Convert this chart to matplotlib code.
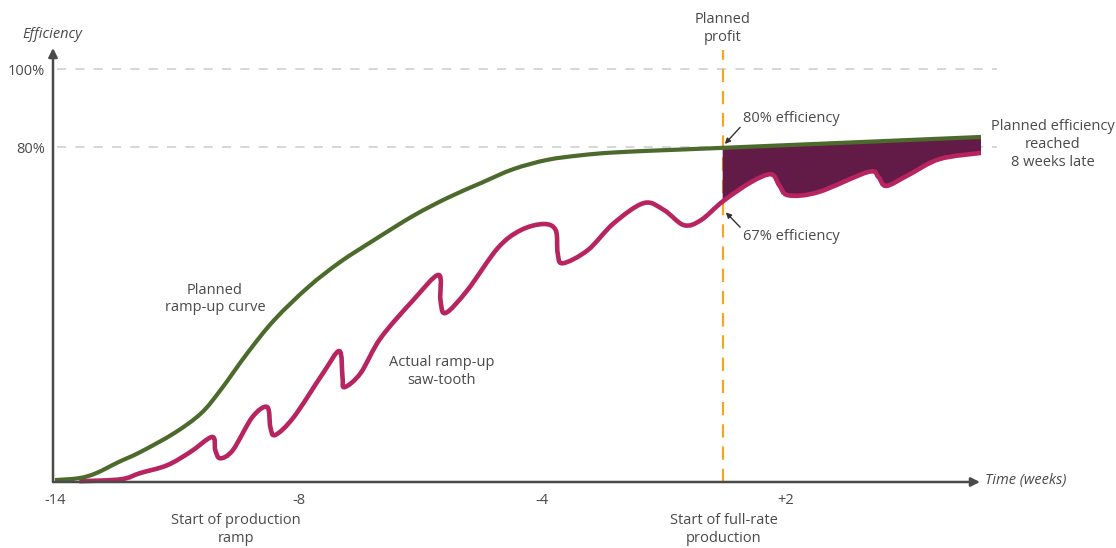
import matplotlib
matplotlib.use('Agg')
import matplotlib.pyplot as plt
from matplotlib.path import Path
from matplotlib.patches import PathPatch
import numpy as np

plt.rcParams['font.family'] = ['Open Sans', 'DejaVu Sans']

###################################################################
# DATA (x = position along the time axis, one unit per tick label;
#        y = efficiency in %)
tick_pos = [0, 1, 2, 3]
tick_labels = ['-14', '-8', '-4', '+2']
ytick_vals = [80, 100]
ytick_labels = ['80%', '100%']

planned_x = [0.0, 0.10, 0.17, 0.26, 0.35, 0.49, 0.60, 0.68, 0.79, 0.90,
             1.04, 1.17, 1.31, 1.47, 1.61, 1.75, 1.88, 2.02, 2.16,
             2.29, 2.50, 2.74, 3.80]
planned_y = [-5.7, -5.2, -3.9, -1.1, 1.5, 6.4, 11.5, 17.5, 27.0, 35.5,
             44.0, 50.4, 56.1, 62.3, 66.9, 70.8, 74.3, 76.7, 77.9,
             78.6, 79.2, 79.8, 82.6]

actual_x = [0.10, 0.27, 0.35, 0.46, 0.555, 0.645, 0.658, 0.678, 0.73, 0.81,
            0.871, 0.884, 0.904, 0.98, 1.10, 1.167, 1.18, 1.188, 1.254, 1.336,
            1.47, 1.574, 1.582, 1.603, 1.693, 1.817, 1.911, 2.006, 2.055, 2.063,
            2.084, 2.187, 2.293, 2.417, 2.499, 2.581, 2.651, 2.74, 2.857, 2.939,
            2.972, 3.009, 3.132, 3.337, 3.379, 3.411, 3.502, 3.629, 3.80]
actual_y = [-6.0, -5.5, -3.9, -1.9, 1.5, 5.4, 2.0, -0.1, 2.0, 10.5,
            13.1, 7.9, 5.9, 10.5, 21.8, 27.5, 20.8, 18.2, 21.8, 30.8,
            40.6, 47.1, 40.6, 37.3, 43.2, 54.0, 58.6, 60.2, 58.6, 52.7,
            50.1, 53.5, 60.4, 65.6, 63.8, 59.9, 61.2, 66.0, 71.0, 73.0,
            70.2, 67.6, 68.4, 73.6, 72.3, 70.0, 72.8, 76.9, 78.5]

full_rate_x = 2.74          # start of full-rate production / planned profit
###################################################################

green = '#4b6a2c'
pink = '#b7245f'
gap_fill = '#621a46'
orange = '#f5a623'
text_col = '#4a4a4a'
axis_col = '#4a4a4a'
grid_col = '#cccccc'


def smooth_path(xs, ys):
    # Catmull-Rom through the read points, drawn as cubic bezier segments
    p = np.column_stack([xs, ys]).astype(float)
    n = len(p)
    verts = [p[0]]
    codes = [Path.MOVETO]
    for i in range(n - 1):
        p0 = p[i - 1] if i > 0 else p[i]
        p3 = p[i + 2] if i + 2 < n else p[i + 1]
        c1 = p[i] + (p[i + 1] - p0) / 6.0
        c2 = p[i + 1] - (p3 - p[i]) / 6.0
        verts += [c1, c2, p[i + 1]]
        codes += [Path.CURVE4] * 3
    return verts, codes


fig = plt.figure(figsize=(11.16, 5.48), dpi=100)
W, H = 1116, 548
ax = fig.add_axes([53 / W, (H - 482) / H, (980 - 53) / W, (482 - 48) / H])
xmin, xmax = -0.008, 3.796
ymin, ymax = -6.2, 105.5
ax.set_xlim(xmin, xmax)
ax.set_ylim(ymin, ymax)
for s in ax.spines.values():
    s.set_visible(False)

# ticks
ax.set_xticks(tick_pos, tick_labels)
ax.set_yticks(ytick_vals, ytick_labels)
ax.tick_params(axis='both', length=0, labelsize=10.5, colors=text_col)
ax.tick_params(axis='x', pad=8)
ax.tick_params(axis='y', pad=6)

# dashed reference lines
for v in ytick_vals:
    ax.plot([0.008, 3.865], [v, v], color=grid_col, lw=1.1, ls=(0, (6, 6)),
            clip_on=False, zorder=1)

# planned profit line
ax.plot([full_rate_x, full_rate_x], [ymin, 105], color=orange, lw=1.6,
        ls=(0, (6, 4)), clip_on=False, zorder=2)

# efficiency gap after full-rate production
px = np.array(planned_x)
py = np.array(planned_y)
axx = np.array(actual_x)
ayy = np.array(actual_y)
gm = px >= full_rate_x
am = axx >= full_rate_x
gap_v = [np.array([px[gm][0], py[gm][0]])]
gap_c = [Path.MOVETO]
for xg, yg in zip(px[gm][1:], py[gm][1:]):
    gap_v.append(np.array([xg, yg]))
    gap_c.append(Path.LINETO)
rv, rc = smooth_path(axx[am][::-1], ayy[am][::-1])
gap_v += rv
gap_c += [Path.LINETO] + rc[1:]
gap_v.append(gap_v[0])
gap_c.append(Path.CLOSEPOLY)
ax.add_patch(PathPatch(Path(np.array(gap_v), gap_c), facecolor=gap_fill,
                       lw=0, zorder=3, clip_on=False))

v, c = smooth_path(actual_x, actual_y)
ax.add_patch(PathPatch(Path(np.array(v), c), facecolor='none', edgecolor=pink,
                       lw=3.3, joinstyle='round', capstyle='butt', zorder=4,
                       clip_on=False))
v, c = smooth_path(planned_x, planned_y)
ax.add_patch(PathPatch(Path(np.array(v), c), facecolor='none', edgecolor=green,
                       lw=3.0, joinstyle='round', capstyle='butt', zorder=5,
                       clip_on=False))

# axes with arrow heads
arrow_kw = dict(arrowstyle='-|>', color=axis_col, lw=1.8, mutation_scale=13,
                shrinkA=0, shrinkB=0)
ax.annotate('', xy=(xmax, ymin), xytext=(xmin, ymin), arrowprops=arrow_kw,
            annotation_clip=False, zorder=6)
ax.annotate('', xy=(xmin, ymax), xytext=(xmin, ymin), arrowprops=arrow_kw,
            annotation_clip=False, zorder=6)

txt = dict(color=text_col, fontsize=10.5, clip_on=False)
ax.text(-0.012, 108.9, 'Efficiency', ha='center', va='center', style='italic', **txt)
ax.text(3.816, -5.7, 'Time (weeks)', ha='left', va='center', style='italic', **txt)
ax.text(full_rate_x, 110.6, 'Planned\nprofit', ha='center', va='center',
        linespacing=1.25, **txt)
ax.text(0.743, -18.5, 'Start of production\nramp', ha='center', va='center',
        linespacing=1.25, **txt)
ax.text(2.745, -18.5, 'Start of full-rate\nproduction', ha='center', va='center',
        linespacing=1.25, **txt)
ax.text(0.657, 40.9, 'Planned\nramp-up curve', ha='center', va='center',
        linespacing=1.25, **txt)
ax.text(1.588, 22.3, 'Actual ramp-up\nsaw-tooth', ha='center', va='center',
        linespacing=1.25, **txt)
ax.text(4.095, 80.7, 'Planned efficiency\nreached\n8 weeks late', ha='center',
        va='center', linespacing=1.25, **txt)

# efficiency call-outs
pointer = dict(arrowstyle='-|>', color='#333333', lw=1.0, mutation_scale=8,
               shrinkA=0, shrinkB=0)
ax.annotate('80% efficiency', xy=(2.749, 80.8), xytext=(2.823, 87.4),
            ha='left', va='center', fontsize=10.5, color=text_col,
            arrowprops=dict(pointer, relpos=(0, 0.1)), annotation_clip=False)
ax.annotate('67% efficiency', xy=(2.753, 63.2), xytext=(2.823, 57.1),
            ha='left', va='center', fontsize=10.5, color=text_col,
            arrowprops=dict(pointer, relpos=(0, 0.9)), annotation_clip=False)

fig.savefig('out.png', dpi=100)
